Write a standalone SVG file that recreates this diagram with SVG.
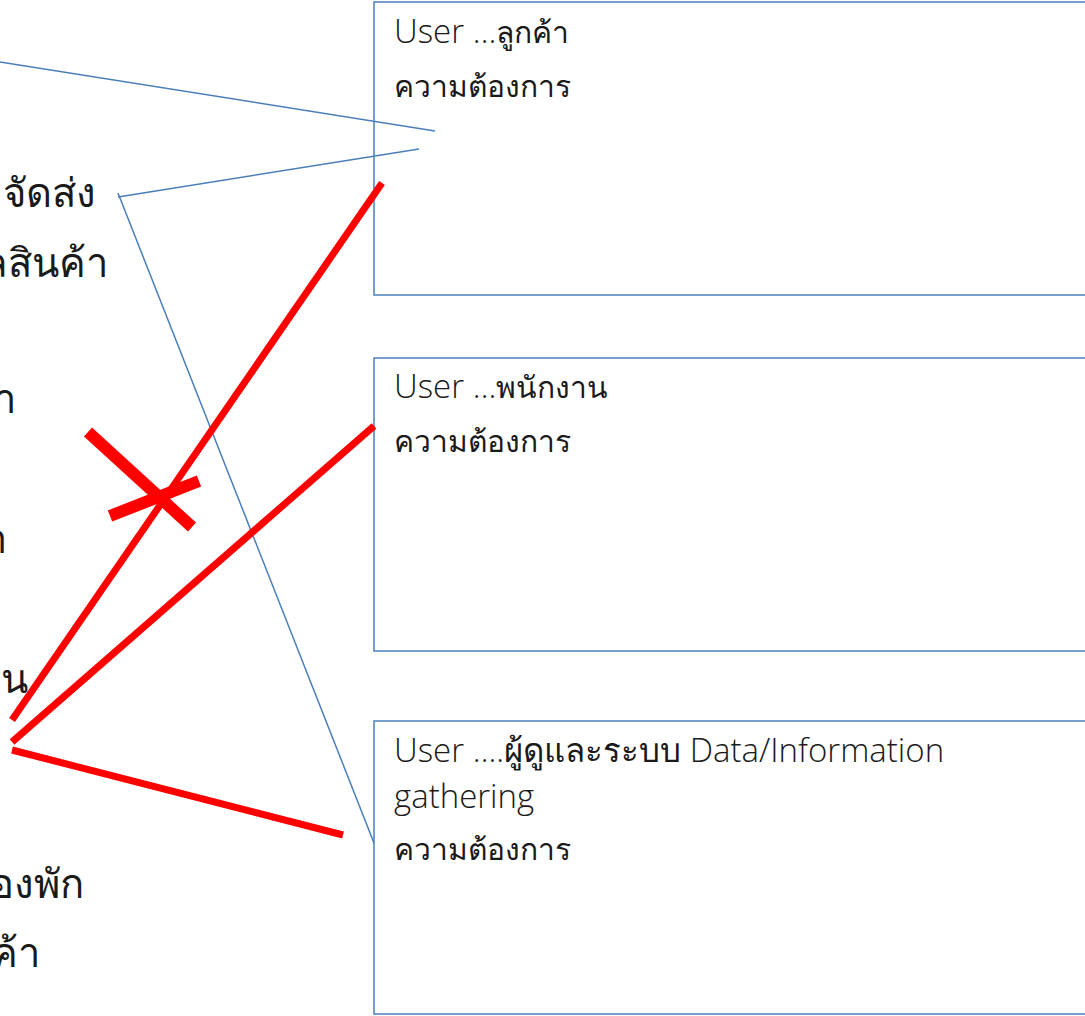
<svg xmlns="http://www.w3.org/2000/svg" width="1085" height="1016" viewBox="0 0 1085 1016">
  <style>
    .box { fill: #ffffff; stroke: #4a7ebb; stroke-width: 1.5; }
    .lbl { font-family: "Open Sans", "Noto Sans", "Noto Sans CJK SC", sans-serif; font-weight: 300; font-size: 33px; fill: #1a1a1a; }
    .th { font-size: 30px; font-weight: 300; }
    .side { font-family: "Open Sans", "Noto Sans", "Noto Sans CJK SC", sans-serif; font-weight: 300; font-size: 40px; fill: #1a1a1a; text-anchor: end; }
    .blue { stroke: #4a7ebb; stroke-width: 1.5; fill: none; }
    .red { stroke: #ff0000; stroke-width: 7; fill: none; }
    .cross { stroke: #ff0000; stroke-width: 12; fill: none; }
  </style>
  <rect width="1085" height="1016" fill="#ffffff"/>

  <!-- list items on the left, running past the page edge -->
  <g id="list">
    <text class="side" x="96" y="207">จัดส่ง</text>
    <text class="side" x="108" y="277">ลสินค้า</text>
    <text class="side" x="16" y="413">า</text>
    <text class="side" x="7" y="553">า</text>
    <text class="side" x="28" y="693">าน</text>
    <text class="side" x="84" y="898">องพัก</text>
    <text class="side" x="40" y="967">ค้า</text>
  </g>

  <g id="user-customer">
    <rect class="box" x="374" y="2" width="720" height="293"/>
    <text class="lbl" x="394" y="43">User …<tspan class="th">ลูกค้า</tspan></text>
    <text class="lbl th" x="394" y="97">ความต้องการ</text>
  </g>

  <g id="user-staff">
    <rect class="box" x="374" y="358" width="720" height="293"/>
    <text class="lbl" x="394" y="398">User …<tspan class="th">พนักงาน</tspan></text>
    <text class="lbl th" x="394" y="452">ความต้องการ</text>
  </g>

  <g id="user-admin">
    <rect class="box" x="374" y="721" width="720" height="293"/>
    <text class="lbl" x="394" y="762">User ….ผู้ดูและระบบ Data/Information</text>
    <text class="lbl" x="394" y="808">gathering</text>
    <text class="lbl th" x="394" y="860">ความต้องการ</text>
  </g>

  <g id="connectors">
    <line class="blue" x1="0" y1="62" x2="435" y2="131"/>
    <line class="blue" x1="118" y1="197" x2="419" y2="149"/>
    <line class="blue" x1="118" y1="193" x2="374" y2="843"/>
    <line class="red" x1="12" y1="720" x2="382" y2="183"/>
    <line class="red" x1="12" y1="742" x2="374" y2="426"/>
    <line class="red" x1="12" y1="750" x2="343" y2="835"/>
    <line class="cross" x1="88" y1="432" x2="192" y2="527"/>
    <line class="cross" x1="110" y1="516" x2="199" y2="481"/>
  </g>
</svg>
